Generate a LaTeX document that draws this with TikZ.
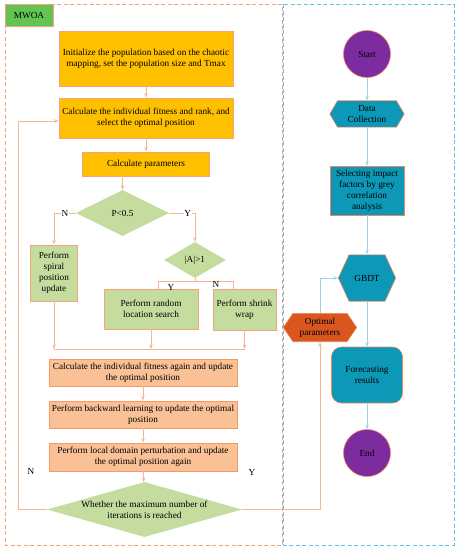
\documentclass[tikz,border=0pt]{standalone}
\usepackage{fontspec}
\setmainfont{Liberation Serif}
\usetikzlibrary{shapes.geometric,arrows.meta}
\definecolor{gold}{HTML}{FFC000}
\definecolor{goldline}{HTML}{F5A27C}
\definecolor{peach}{HTML}{FAC196}
\definecolor{peachline}{HTML}{F79A62}
\definecolor{greenfill}{HTML}{C5DC9F}
\definecolor{mwoagreen}{HTML}{62C552}
\definecolor{tealfill}{HTML}{0C98B6}
\definecolor{purplefill}{HTML}{7D2CA0}
\definecolor{optfill}{HTML}{D9561F}
\definecolor{hexline}{HTML}{F0865A}
\definecolor{lline}{HTML}{F7B496}
\definecolor{rline}{HTML}{9CD4E6}
\definecolor{oframe}{HTML}{F5A07C}
\definecolor{cframe}{HTML}{5EC7DE}
\begin{document}
\begin{tikzpicture}[x=1bp,y=-1bp,font=\fontsize{9.3}{11}\selectfont,
  box/.style={rectangle,draw=goldline,line width=0.8bp,align=center,inner sep=1bp},
  goldbox/.style={box,fill=gold},
  peachbox/.style={box,fill=peach,draw=peachline,minimum width=188bp},
  greenbox/.style={box,fill=greenfill},
  dia/.style={diamond,fill=greenfill,draw=none,inner sep=0pt,align=center},
  tealbox/.style={box,fill=tealfill,draw=hexline,line width=0.6bp},
  circ/.style={circle,fill=purplefill,draw=hexline,line width=0.6bp,minimum size=47bp,inner sep=0pt},
  hexa/.style 2 args={rectangle,draw=none,align=center,inner sep=0pt,
    path picture={\filldraw[fill=#1,draw=hexline,line width=0.6bp]
      ([xshift=0.3bp]path picture bounding box.west)
      -- ([xshift=#2,yshift=-0.3bp]path picture bounding box.north west)
      -- ([xshift=-#2,yshift=-0.3bp]path picture bounding box.north east)
      -- ([xshift=-0.3bp]path picture bounding box.east)
      -- ([xshift=-#2,yshift=0.3bp]path picture bounding box.south east)
      -- ([xshift=#2,yshift=0.3bp]path picture bounding box.south west) -- cycle;}},
  conn/.style={draw=lline,line width=0.9bp},
  arr/.style={conn,-{Stealth[length=4.5bp,width=3.5bp]}},
  rarr/.style={draw=rline,line width=0.9bp,-{Stealth[length=4.5bp,width=3.5bp]}},
  lbl/.style={inner sep=0.6bp,fill=white},
  frame/.style={line width=0.9bp,dash pattern=on 4bp off 2.5bp}]
\useasboundingbox (0,0) rectangle (458,550);
% frames
\draw[frame,draw=oframe] (5,4.5) rectangle (282.5,545);
\draw[frame,draw=cframe] (283.5,4.5) rectangle (454,545);
\node[rectangle,fill=mwoagreen,draw=goldline,line width=0.8bp,minimum width=48bp,minimum height=21.5bp,inner sep=0pt] (mwoa) at (29,15.3) {MWOA};
% left column
\node[goldbox,minimum width=174bp,minimum height=55bp] (init) at (146,58.5) {Initialize the population based on the chaotic\\mapping, set the population size and Tmax};
\node[goldbox,minimum width=174bp,minimum height=40bp] (fit) at (146,118) {Calculate the individual fitness and rank, and\\select the optimal position};
\node[goldbox,minimum width=127bp,minimum height=24bp] (param) at (146,164) {Calculate parameters};
\node[dia,minimum width=93bp,minimum height=46bp] (p05) at (122.5,213) {P<0.5};
\node[greenbox,minimum width=47bp,minimum height=56bp] (spiral) at (54,273) {Perform\\spiral\\position\\update};
\node[dia,minimum width=62bp,minimum height=36bp] (a1) at (195,260) {|A|>1};
\node[greenbox,minimum width=94bp,minimum height=40bp] (random) at (151,309) {Perform random\\location search};
\node[greenbox,minimum width=63bp,minimum height=41bp] (shrink) at (244.5,309.5) {Perform shrink\\wrap};
\node[peachbox,minimum height=27bp] (again) at (143,372.5) {Calculate the individual fitness again and update\\the optimal position};
\node[peachbox,minimum height=27bp] (backward) at (143,414.5) {Perform backward learning to update the optimal\\position};
\node[peachbox,minimum height=28bp] (local) at (143,457) {Perform local domain perturbation and update\\the optimal position again};
\node[dia,aspect=3.55,minimum width=195bp,minimum height=55bp] (maxit) at (144.5,509.5) {Whether the maximum number of\\iterations is reached};
% right column
\node[circ] (start) at (367,54) {Start};
\node[hexa={tealfill}{8bp},minimum width=75bp,minimum height=27bp] (data) at (367,114) {Data\\Collection};
\node[tealbox,minimum width=74bp,minimum height=49bp] (select) at (367,190.5) {Selecting impact\\factors by grey\\correlation\\analysis};
\node[hexa={tealfill}{11bp},minimum width=58bp,minimum height=47bp] (gbdt) at (367,278) {GBDT};
\node[hexa={optfill}{10bp},minimum width=74bp,minimum height=29bp] (optimal) at (320,327.5) {Optimal\\parameters};
\node[tealbox,rounded corners=10bp,minimum width=71bp,minimum height=56bp] (forecast) at (367,375) {Forecasting\\results};
\node[circ] (end) at (367,453) {End};
% left connectors
\draw[arr] (init) -- (fit);
\draw[arr] (fit) -- (param);
\draw[arr] (param.south -| p05.north) -- (p05.north);
\draw[arr] (p05.west) -| node[lbl,pos=0.25] {N} (spiral.north);
\draw[arr] (p05.east) -| node[lbl,pos=0.36] {Y} (a1.north);
\coordinate (br) at (195,281);
\draw[conn] (a1.south) -- (br);
\draw[conn] (br) -| ([xshift=7bp]random.north);
\draw[conn] (br) -| ([xshift=-11.5bp]shrink.north);
\node (ylab) at (171,287) {Y};
\node (nlab) at (216,284.5) {N};
\coordinate (mergeL) at (54,349);
\coordinate (mergeR) at (244.5,349);
\draw[conn] (mergeL) -- (mergeR);
\draw[arr] (spiral.south) -- (mergeL);
\draw[arr] (random.south) -- (random.south |- mergeL);
\draw[arr] (shrink.south) -- (mergeR);
\draw[arr] (again) -- (backward);
\draw[arr] (backward) -- (local);
\draw[arr] (local) -- (maxit);
\draw[arr] (maxit.west) -- ++(-28,0) |- ([yshift=-3bp]fit.west);
\node (nfb) at (31,471) {N};
\draw[arr] (maxit.east) -| (optimal.south);
\node (yfb) at (252,472) {Y};
% right connectors
\draw[rarr] (optimal.north) |- (gbdt.west);
\draw[rarr] (start) -- (data);
\draw[rarr] (data) -- (select);
\draw[rarr] (select) -- (gbdt);
\draw[rarr] (gbdt) -- (forecast);
\draw[rarr] (forecast) -- (end);
\end{tikzpicture}
\end{document}
